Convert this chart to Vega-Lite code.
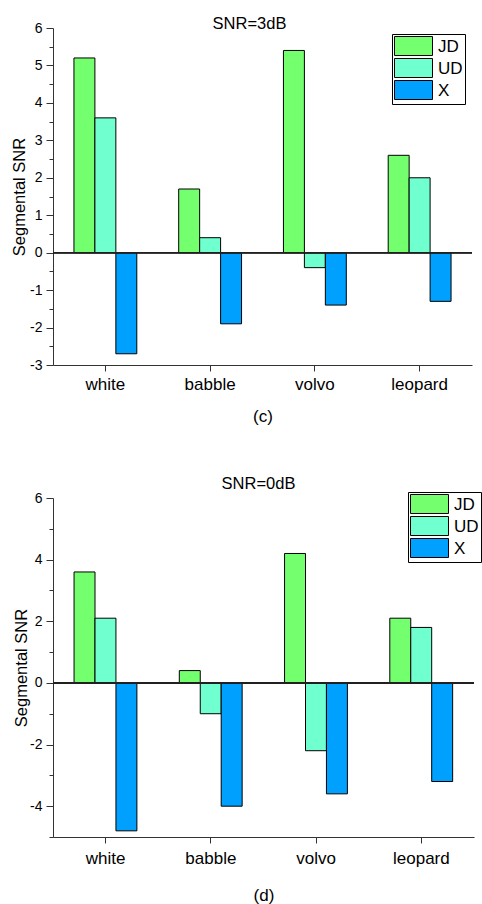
{
  "$schema": "https://vega.github.io/schema/vega-lite/v6.json",
  "padding": {"left": 11, "top": 15, "right": 0, "bottom": 2},
  "background": "white",
  "config": {
    "view": {"stroke": null},
    "font": "Liberation Sans",
    "axis": {"domainColor": "#333333", "tickColor": "#333333", "labelColor": "black", "titleColor": "black", "grid": false, "titleFontWeight": "normal", "labelFont": "Liberation Sans", "titleFont": "Liberation Sans"},
    "legend": {"labelFont": "Liberation Sans"},
    "title": {"font": "Liberation Sans", "fontWeight": "normal", "color": "black"}
  },
  "datasets": {
    "c": [
      {"noise": "white", "method": "JD", "value": 5.2},
      {"noise": "white", "method": "UD", "value": 3.6},
      {"noise": "white", "method": "X", "value": -2.7},
      {"noise": "babble", "method": "JD", "value": 1.7},
      {"noise": "babble", "method": "UD", "value": 0.4},
      {"noise": "babble", "method": "X", "value": -1.9},
      {"noise": "volvo", "method": "JD", "value": 5.4},
      {"noise": "volvo", "method": "UD", "value": -0.4},
      {"noise": "volvo", "method": "X", "value": -1.4},
      {"noise": "leopard", "method": "JD", "value": 2.6},
      {"noise": "leopard", "method": "UD", "value": 2.0},
      {"noise": "leopard", "method": "X", "value": -1.3}
    ],
    "d": [
      {"noise": "white", "method": "JD", "value": 3.6},
      {"noise": "white", "method": "UD", "value": 2.1},
      {"noise": "white", "method": "X", "value": -4.8},
      {"noise": "babble", "method": "JD", "value": 0.4},
      {"noise": "babble", "method": "UD", "value": -1.0},
      {"noise": "babble", "method": "X", "value": -4.0},
      {"noise": "volvo", "method": "JD", "value": 4.2},
      {"noise": "volvo", "method": "UD", "value": -2.2},
      {"noise": "volvo", "method": "X", "value": -3.6},
      {"noise": "leopard", "method": "JD", "value": 2.1},
      {"noise": "leopard", "method": "UD", "value": 1.8},
      {"noise": "leopard", "method": "X", "value": -3.2}
    ]
  },
  "spacing": 51,
  "resolve": {"legend": {"color": "independent"}, "scale": {"y": "independent", "x": "independent"}},
  "vconcat": [
    {
      "width": 419,
      "height": 337,
      "data": {"name": "c"},
      "title": {"text": "SNR=3dB", "fontSize": 16.5, "offset": -11, "dx": -13},
      "resolve": {"axis": {"y": "independent"}},
      "layer": [
        {
          "mark": {"type": "bar", "stroke": "black", "strokeWidth": 1},
          "encoding": {
            "x": {"field": "noise", "type": "nominal", "sort": ["white", "babble", "volvo", "leopard"],
              "scale": {"paddingInner": 0.4, "paddingOuter": 0.2},
              "axis": {"title": "(c)", "titleFontSize": 17, "titlePadding": 16, "labelFontSize": 17, "labelAngle": 0, "labelPadding": 5, "tickSize": 6}},
            "xOffset": {"field": "method", "type": "nominal", "sort": ["JD", "UD", "X"], "scale": {"paddingInner": 0, "paddingOuter": 0}},
            "y": {"field": "value", "type": "quantitative",
              "scale": {"domain": [-3, 6], "nice": false, "zero": false},
              "axis": {"orient": "left", "title": "Segmental SNR", "titleFontSize": 16.5, "titlePadding": 2,
                "values": [-3, -2, -1, 0, 1, 2, 3, 4, 5, 6],
                "labelExpr": "'' + datum.value",
                "tickSize": 7, "labelFontSize": 14, "labelPadding": 4, "labelOverlap": false}},
            "color": {"field": "method", "type": "nominal",
              "scale": {"domain": ["JD", "UD", "X"], "range": ["#74FF6E", "#70FFCF", "#00A0FF"]},
              "legend": {"orient": "none", "legendX": 339, "legendY": 6, "title": null,
                "symbolType": "M-1,-1H1V0H-1Z", "symbolSize": 1444, "symbolStrokeColor": "black", "symbolStrokeWidth": 1, "symbolOpacity": 1,
                "labelFontSize": 17, "labelOffset": 5, "labelBaseline": "bottom", "labelColor": "black", "strokeColor": "black", "fillColor": "white", "padding": 2, "rowPadding": -4}}
          }
        },
        {
          "mark": {"type": "rule", "color": "#222222", "strokeWidth": 1},
          "encoding": {"y": {"datum": 0, "type": "quantitative",
            "axis": {"orient": "left", "title": null, "labels": false, "domain": false, "tickSize": 4,
              "values": [-2.5, -1.5, -0.5, 0.5, 1.5, 2.5, 3.5, 4.5, 5.5]}}}
        }
      ]
    },
    {
      "width": 421,
      "height": 339,
      "data": {"name": "d"},
      "title": {"text": "SNR=0dB", "fontSize": 16.5, "offset": -1, "dx": -5},
      "resolve": {"axis": {"y": "independent"}},
      "layer": [
        {
          "mark": {"type": "bar", "stroke": "black", "strokeWidth": 1},
          "encoding": {
            "x": {"field": "noise", "type": "nominal", "sort": ["white", "babble", "volvo", "leopard"],
              "scale": {"paddingInner": 0.4, "paddingOuter": 0.2},
              "axis": {"title": "(d)", "titleFontSize": 17, "titlePadding": 21, "labelFontSize": 17, "labelAngle": 0, "labelPadding": 7, "tickSize": 6}},
            "xOffset": {"field": "method", "type": "nominal", "sort": ["JD", "UD", "X"], "scale": {"paddingInner": 0, "paddingOuter": 0}},
            "y": {"field": "value", "type": "quantitative",
              "scale": {"domain": [-5, 6], "nice": false, "zero": false},
              "axis": {"orient": "left", "title": "Segmental SNR", "titleFontSize": 16.5, "titlePadding": 0,
                "values": [-4, -2, 0, 2, 4, 6],
                "labelExpr": "'' + datum.value",
                "tickSize": 7, "labelFontSize": 14, "labelPadding": 4, "labelOverlap": false}},
            "color": {"field": "method", "type": "nominal",
              "scale": {"domain": ["JD", "UD", "X"], "range": ["#74FF6E", "#70FFCF", "#00A0FF"]},
              "legend": {"orient": "none", "legendX": 355, "legendY": -6, "title": null,
                "symbolType": "M-1,-1H1V0H-1Z", "symbolSize": 1444, "symbolStrokeColor": "black", "symbolStrokeWidth": 1, "symbolOpacity": 1,
                "labelFontSize": 17, "labelOffset": 5, "labelBaseline": "bottom", "labelColor": "black", "strokeColor": "black", "fillColor": "white", "padding": 2, "rowPadding": -4}}
          }
        },
        {
          "mark": {"type": "rule", "color": "#222222", "strokeWidth": 1},
          "encoding": {"y": {"datum": 0, "type": "quantitative",
            "axis": {"orient": "left", "title": null, "labels": false, "domain": false, "tickSize": 4,
              "values": [-5, -3, -1, 1, 3, 5]}}}
        }
      ]
    }
  ]
}
